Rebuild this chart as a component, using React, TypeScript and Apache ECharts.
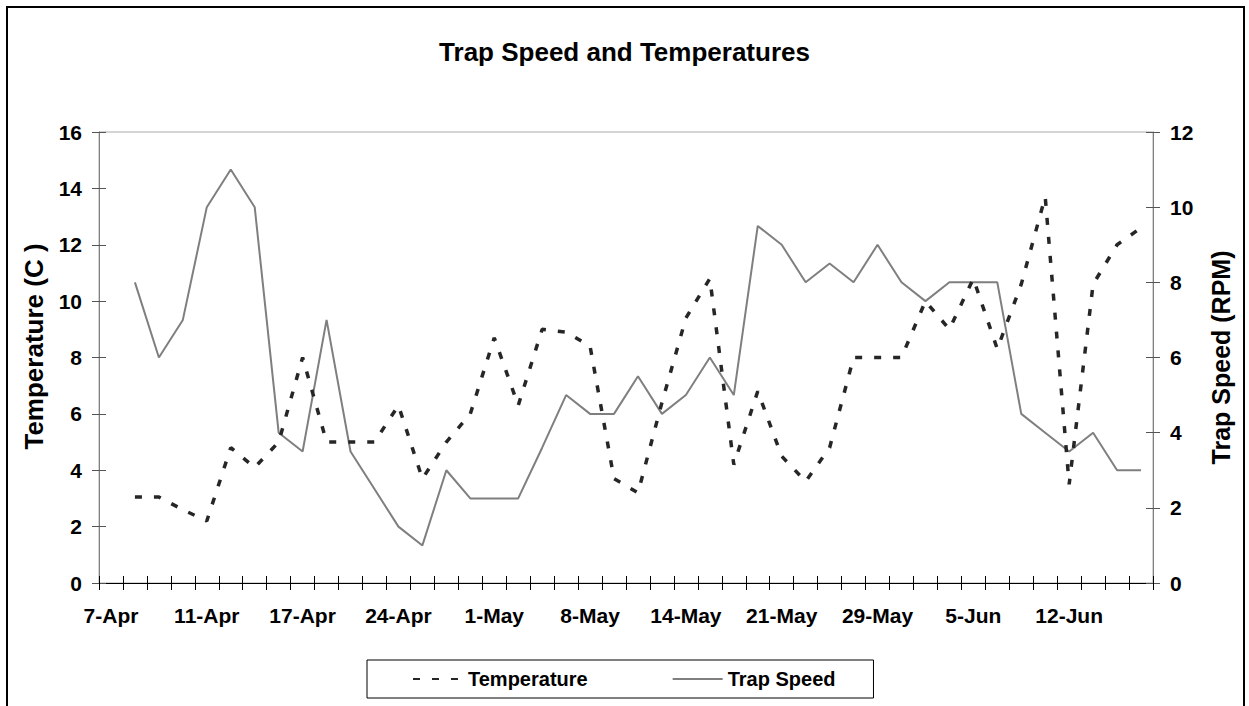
import React, { useEffect, useRef } from "react";
import * as echarts from "echarts";

const categories = [
  "7-Apr", "8-Apr", "9-Apr", "10-Apr",
  "11-Apr", "12-Apr", "14-Apr", "16-Apr",
  "17-Apr", "18-Apr", "20-Apr", "22-Apr",
  "24-Apr", "25-Apr", "27-Apr", "29-Apr",
  "1-May", "2-May", "4-May", "6-May",
  "8-May", "9-May", "11-May", "12-May",
  "14-May", "15-May", "17-May", "19-May",
  "21-May", "23-May", "25-May", "27-May",
  "29-May", "31-May", "2-Jun", "3-Jun",
  "5-Jun", "7-Jun", "8-Jun", "10-Jun",
  "12-Jun", "13-Jun", "14-Jun", "15-Jun",
];

const temperature = [
  null, 3.05, 3.05, 2.6, 2.2, 4.8, 4.1, 5.0, 8.0, 5.0, 5.0,
  5.0, 6.3, 3.7, 5.0, 6.0, 8.7, 6.3, 9.0, 8.9, 8.4,
  3.7, 3.2, 6.4, 9.4, 10.8, 4.2, 6.8, 4.5, 3.6, 4.8,
  8.0, 8.0, 8.0, 10.0, 9.0, 10.8, 8.3, 10.6, 13.7, 3.5,
  10.6, 12.0, 12.6,
];

const trapSpeed = [
  null, 8, 6, 7, 10, 11, 10, 4, 3.5, 7, 3.5,
  2.5, 1.5, 1, 3, 2.25, 2.25, 2.25, 3.6, 5, 4.5,
  4.5, 5.5, 4.5, 5, 6, 5, 9.5, 9, 8, 8.5,
  8, 9, 8, 7.5, 8, 8, 8, 4.5, 4, 3.5,
  4, 3, 3,
];

const tempAxis = { min: 0, max: 16, interval: 2 };
const speedAxis = { min: 0, max: 12, interval: 2 };

const FONT = "'Liberation Sans', Arial, Helvetica, sans-serif";

export default function App() {
  const ref = useRef<HTMLDivElement>(null);

  useEffect(() => {
    document.body.style.margin = "0";
    if (!ref.current) return;
    const chart = echarts.init(ref.current, undefined, { renderer: "svg" });
    const labelStyle = { fontFamily: FONT, fontWeight: "bold" as const, color: "#000" };
    const option: any = {
      animation: false,
      backgroundColor: "#ffffff",
      title: {
        text: "Trap Speed and Temperatures",
        left: "center",
        top: 34,
        textStyle: { ...labelStyle, fontSize: 26 },
      },
      graphic: [
        {
          type: "rect",
          shape: { x: 7, y: 7, width: 1237, height: 740 },
          style: { fill: "none", stroke: "#000", lineWidth: 2 },
          silent: true,
          z: 100,
        },
      ],
      legend: {
        left: 367,
        top: 660,
        padding: [9, 38, 9, 45],
        itemGap: 84,
        itemWidth: 50,
        itemHeight: 20,
        borderColor: "#000",
        borderWidth: 1,
        itemStyle: { opacity: 0 },
        textStyle: { ...labelStyle, fontSize: 20 },
        data: ["Temperature", "Trap Speed"],
      },
      grid: {
        left: 99,
        right: 96,
        top: 132,
        bottom: 123,
        show: true,
        borderColor: "#aaa",
        borderWidth: 1,
      },
      xAxis: [
        {
          type: "category",
          data: categories,
          boundaryGap: true,
          position: "bottom",
          axisLine: { show: true, lineStyle: { color: "#000", width: 1 } },
          axisTick: { show: true, interval: 0, length: 7, lineStyle: { color: "#000" } },
          axisLabel: { interval: 3, margin: 22, fontSize: 21, ...labelStyle },
          splitLine: { show: false },
        },
        {
          type: "category",
          data: categories,
          boundaryGap: true,
          position: "bottom",
          offset: 0,
          axisLine: { show: false },
          axisTick: { show: true, inside: true, interval: 0, length: 7, lineStyle: { color: "#000" } },
          axisLabel: { show: false },
          splitLine: { show: false },
        },
      ],
      yAxis: [
        {
          type: "value",
          position: "left",
          ...tempAxis,
          name: "Temperature (C )",
          nameLocation: "middle",
          nameRotate: 90,
          nameGap: 52,
          nameTextStyle: { ...labelStyle, fontSize: 26, padding: [0, 0, 0, 22] },
          axisLine: { show: true, lineStyle: { color: "#808080", width: 1 } },
          axisTick: { show: true, length: 7, lineStyle: { color: "#555" } },
          axisLabel: { margin: 17, fontSize: 21, ...labelStyle },
          splitLine: { show: false },
        },
        {
          type: "value",
          position: "right",
          ...speedAxis,
          name: "Trap Speed (RPM)",
          nameLocation: "middle",
          nameRotate: 90,
          nameGap: 55,
          nameTextStyle: { ...labelStyle, fontSize: 25 },
          axisLine: { show: true, lineStyle: { color: "#808080", width: 1 } },
          axisTick: { show: true, length: 7, lineStyle: { color: "#555" } },
          axisLabel: { margin: 17, fontSize: 21, ...labelStyle },
          splitLine: { show: false },
        },
        {
          type: "value",
          position: "left",
          offset: 0,
          ...tempAxis,
          axisLine: { show: false },
          axisTick: { show: true, inside: true, length: 7, lineStyle: { color: "#555" } },
          axisLabel: { show: false },
          splitLine: { show: false },
        },
        {
          type: "value",
          position: "right",
          offset: 0,
          ...speedAxis,
          axisLine: { show: false },
          axisTick: { show: true, inside: true, length: 7, lineStyle: { color: "#555" } },
          axisLabel: { show: false },
          splitLine: { show: false },
        },
      ],
      series: [
        {
          name: "Temperature",
          type: "line",
          xAxisIndex: 0,
          yAxisIndex: 0,
          data: temperature,
          symbol: "none",
          connectNulls: false,
          lineStyle: { color: "#262626", width: 3.5, type: [7, 12] },
          itemStyle: { color: "#262626" },
          z: 3,
        },
        {
          name: "Trap Speed",
          type: "line",
          xAxisIndex: 0,
          yAxisIndex: 1,
          data: trapSpeed,
          symbol: "none",
          lineStyle: { color: "#7f7f7f", width: 2, type: "solid" },
          itemStyle: { color: "#7f7f7f" },
          z: 2,
        },
      ],
    };
    chart.setOption(option);
    return () => {
      chart.dispose();
    };
  }, []);

  return <div ref={ref} style={{ width: 1249, height: 706 }} />;
}
